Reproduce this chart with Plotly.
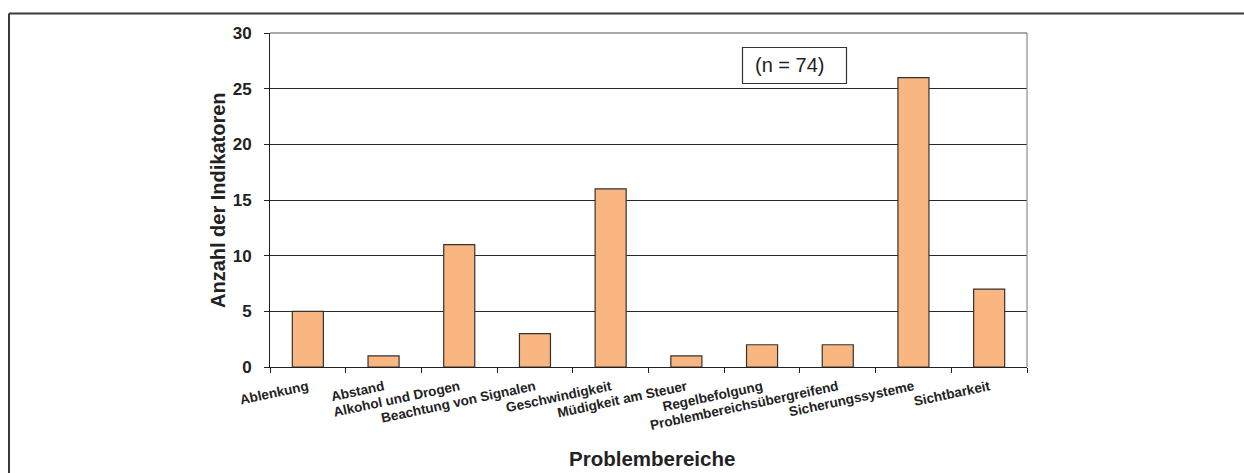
import plotly.graph_objects as go

# Problembereiche und Anzahl der zugeordneten Indikatoren
categories = [
    "Ablenkung",
    "Abstand",
    "Alkohol und Drogen",
    "Beachtung von Signalen",
    "Geschwindigkeit",
    "Müdigkeit am Steuer",
    "Regelbefolgung",
    "Problembereichsübergreifend",
    "Sicherungssysteme",
    "Sichtbarkeit",
]
counts = [5, 1, 11, 3, 16, 1, 2, 2, 26, 7]
y_ticks = [0, 5, 10, 15, 20, 25, 30]
sample_label = "(n = 74)"

FONT = "Liberation Sans, Arial, Helvetica, sans-serif"
W, H = 1244, 473
ML, MR, MT, MB = 270, 217, 33, 106
PW = W - ML - MR
PH = H - MT - MB


def px_x(px):
    return (px - ML) / PW


def px_y(py):
    return (H - MB - py) / PH


fig = go.Figure(
    go.Bar(
        x=categories,
        y=counts,
        width=0.41,
        marker=dict(color="#F9B680", line=dict(color="#333333", width=1.2)),
        hoverinfo="x+y",
    )
)

fig.update_layout(
    width=W,
    height=H,
    margin=dict(l=ML, r=MR, t=MT, b=MB, pad=0),
    paper_bgcolor="white",
    plot_bgcolor="white",
    showlegend=False,
    font=dict(family=FONT, color="#222222"),
)

fig.update_xaxes(
    type="category",
    tickson="boundaries",
    ticks="outside",
    ticklen=5,
    tickwidth=1,
    tickcolor="#222222",
    showline=True,
    linecolor="#222222",
    linewidth=1,
    showgrid=False,
    tickangle=-12,
    tickfont=dict(family=FONT, size=13.5, weight="bold", color="#222222"),
    ticklabelstandoff=6,
)

fig.update_yaxes(
    range=[0, 30],
    tickvals=y_ticks,
    ticks="outside",
    ticklen=5,
    tickwidth=1,
    tickcolor="#222222",
    showline=True,
    linecolor="#222222",
    linewidth=1,
    showgrid=True,
    gridcolor="#2a2a2a",
    gridwidth=1,
    zeroline=False,
    tickfont=dict(family=FONT, size=17, weight="bold", color="#222222"),
    ticklabelstandoff=9,
)

shapes = [
    # Rahmen des Diagrammbereichs (oben und rechts grau)
    dict(type="line", xref="paper", yref="paper", x0=1, x1=1, y0=0, y1=1,
         line=dict(color="#8a8a8a", width=1.2)),
    dict(type="line", xref="paper", yref="paper", x0=0, x1=1, y0=1, y1=1,
         line=dict(color="#555555", width=1.2)),
    # äußerer Rahmen der Abbildung (oben und links)
    dict(type="line", xref="paper", yref="paper", x0=px_x(9), x1=px_x(W),
         y0=px_y(13.5), y1=px_y(13.5), line=dict(color="#3a3a3a", width=2)),
    dict(type="line", xref="paper", yref="paper", x0=px_x(9), x1=px_x(9),
         y0=px_y(13.5), y1=px_y(H), line=dict(color="#3a3a3a", width=2)),
    # Kasten für die Stichprobengröße
    dict(type="rect", xref="paper", yref="paper", x0=px_x(742.5), x1=px_x(846.5),
         y0=px_y(83.5), y1=px_y(47.5), line=dict(color="#333333", width=1.2),
         fillcolor="white", layer="above"),
]

annotations = [
    dict(text=sample_label, xref="paper", yref="paper", x=px_x(789), y=px_y(65.5),
         xanchor="center", yanchor="middle", showarrow=False,
         font=dict(family=FONT, size=20, color="#222222")),
    dict(text="Anzahl der Indikatoren", xref="paper", yref="paper", x=px_x(218),
         y=0.5, xanchor="center", yanchor="middle", textangle=-90, showarrow=False,
         font=dict(family=FONT, size=20, weight="bold", color="#222222")),
    dict(text="Problembereiche", xref="paper", yref="paper", x=px_x(652), y=px_y(458),
         xanchor="center", yanchor="middle", showarrow=False,
         font=dict(family=FONT, size=20.5, weight="bold", color="#222222")),
]

fig.update_layout(shapes=shapes, annotations=annotations)

fig.write_html("out.html")
